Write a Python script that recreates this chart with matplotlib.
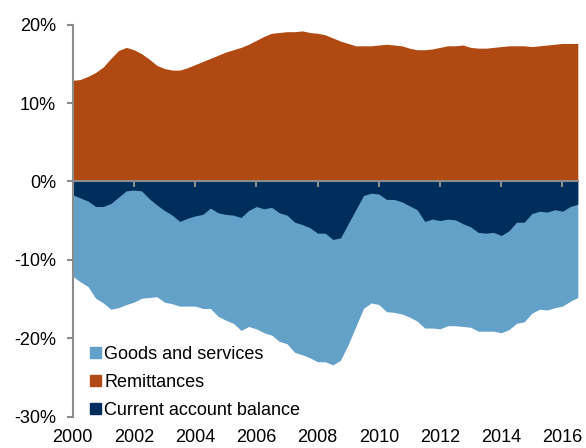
import numpy as np
import matplotlib
matplotlib.use('Agg')
import matplotlib.pyplot as plt
from matplotlib.patches import Patch

plt.rcParams['font.family'] = ['Liberation Sans', 'DejaVu Sans']

# quarterly, 2000Q1 .. 2016Q3, % of GDP
quarters = np.arange(2000, 2016.51, 0.25)

remittances = [
    12.9, 13.0, 13.4, 13.9,
    14.6, 15.7, 16.7, 17.1,
    16.8, 16.3, 15.6, 14.8,
    14.4, 14.2, 14.2, 14.5,
    14.9, 15.3, 15.7, 16.1,
    16.5, 16.8, 17.1, 17.5,
    18.0, 18.5, 18.9, 19.0,
    19.1, 19.1, 19.2, 19.0,
    18.9, 18.7, 18.3, 17.9,
    17.6, 17.3, 17.3, 17.3,
    17.4, 17.5, 17.4, 17.3,
    17.0, 16.8, 16.8, 16.9,
    17.1, 17.3, 17.3, 17.4,
    17.1, 17.0, 17.0, 17.1,
    17.2, 17.3, 17.3, 17.3,
    17.2, 17.3, 17.4, 17.5,
    17.6, 17.6, 17.6,
]

goods_services = [
    -12.1, -12.8, -13.4, -14.9,
    -15.5, -16.3, -16.1, -15.7,
    -15.4, -14.9, -14.8, -14.7,
    -15.4, -15.6, -15.9, -15.9,
    -15.9, -16.2, -16.2, -17.2,
    -17.7, -18.1, -19.0, -18.5,
    -18.8, -19.3, -19.6, -20.4,
    -20.7, -21.8, -22.1, -22.5,
    -23.0, -23.0, -23.4, -22.8,
    -20.8, -18.5, -16.2, -15.5,
    -15.7, -16.6, -16.7, -16.9,
    -17.3, -17.8, -18.7, -18.7,
    -18.8, -18.4, -18.4, -18.5,
    -18.6, -19.1, -19.1, -19.1,
    -19.3, -18.9, -18.1, -17.9,
    -16.8, -16.3, -16.4, -16.1,
    -15.9, -15.3, -14.8,
]

current_account = [
    -1.7, -2.1, -2.5, -3.2,
    -3.2, -2.8, -2.0, -1.2,
    -1.1, -1.2, -2.2, -3.0,
    -3.7, -4.3, -5.1, -4.7,
    -4.4, -4.2, -3.4, -4.0,
    -4.2, -4.3, -4.6, -3.7,
    -3.2, -3.5, -3.3, -4.0,
    -4.3, -5.2, -5.5, -5.9,
    -6.6, -6.6, -7.4, -7.2,
    -5.4, -3.6, -1.8, -1.5,
    -1.6, -2.3, -2.3, -2.6,
    -3.1, -3.6, -5.1, -4.8,
    -5.0, -4.8, -4.9, -5.4,
    -5.8, -6.5, -6.6, -6.5,
    -6.9, -6.3, -5.2, -5.2,
    -4.1, -3.8, -3.9, -3.6,
    -3.8, -3.2, -2.9,
]

year_ticks = list(range(2000, 2017, 2))
pct_ticks = [-30, -20, -10, 0, 10, 20]

c_goods = '#64a1c9'
c_remit = '#b04a12'
c_cab = '#002e5c'
c_axis = '#8c8c8c'
fsize = 13

fig = plt.figure(figsize=(5.86, 4.48), dpi=100)
ax = fig.add_axes([0.124, 0.070, 0.862, 0.875])

ax.fill_between(quarters, goods_services, 0, color=c_goods, linewidth=0)
ax.fill_between(quarters, current_account, 0, color=c_cab, linewidth=0)
ax.fill_between(quarters, remittances, 0, color=c_remit, linewidth=0)

ax.set_xlim(2000, 2016.5)
ax.set_ylim(-30, 20)

for side in ['top', 'right']:
    ax.spines[side].set_visible(False)
ax.spines['left'].set_color(c_axis)
ax.spines['left'].set_linewidth(1.5)
# x axis line sits on zero, tick marks hang below it
ax.spines['bottom'].set_position(('data', 0))
ax.spines['bottom'].set_color(c_axis)
ax.spines['bottom'].set_linewidth(1.5)

ax.set_yticks(pct_ticks)
ax.set_yticklabels(['%d%%' % v for v in pct_ticks], fontsize=fsize)
ax.tick_params(axis='y', length=4, width=1.5, color=c_axis, pad=8)

ax.set_xticks(year_ticks)
ax.tick_params(axis='x', length=4, width=1.5, color=c_axis, labelbottom=False)

# year labels at the bottom of the plot
low_axis = ax.secondary_xaxis('bottom')
low_axis.spines['bottom'].set_visible(False)
low_axis.set_xticks(year_ticks)
low_axis.set_xticklabels([str(y) for y in year_ticks], fontsize=fsize)
low_axis.tick_params(axis='x', length=0, pad=9)

handles = [Patch(color=c_goods), Patch(color=c_remit), Patch(color=c_cab)]
labels = ['Goods and services', 'Remittances', 'Current account balance']
ax.legend(handles, labels, loc='lower left', bbox_to_anchor=(0.034, -0.006),
          frameon=False, fontsize=fsize, borderpad=0, handlelength=0.6,
          handleheight=0.6, handletextpad=0.2, labelspacing=0.62,
          borderaxespad=0)

fig.savefig('out.png', dpi=100)
